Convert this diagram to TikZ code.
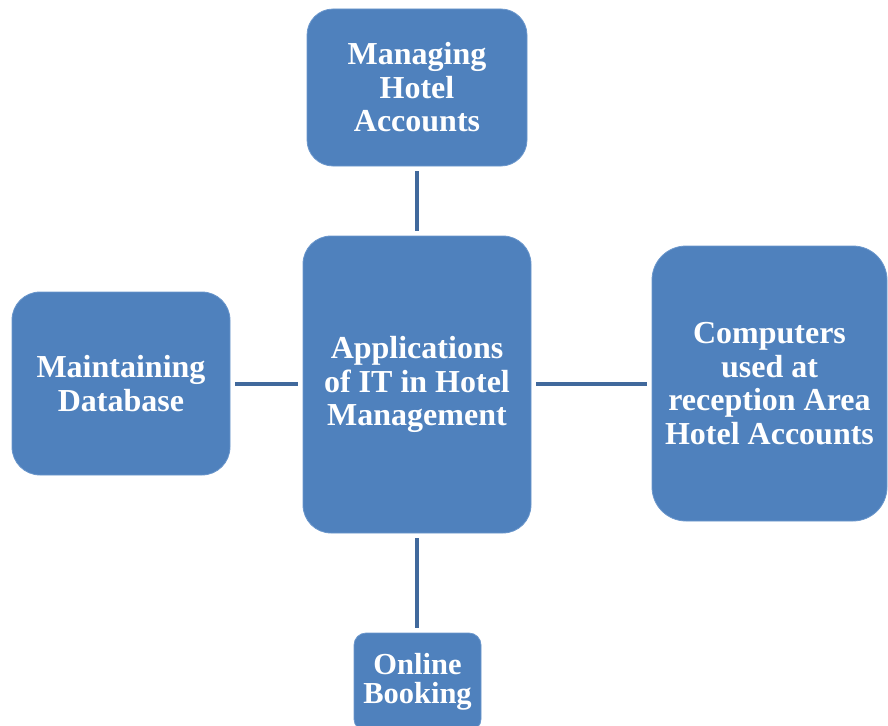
\documentclass[tikz,border=0pt]{standalone}
\usepackage{fontspec}
\setmainfont{Liberation Serif}
\definecolor{boxfill}{HTML}{4F81BD}
\definecolor{boxedge}{HTML}{6B97CC}
\definecolor{linkcol}{HTML}{41699C}
\begin{document}
\begin{tikzpicture}[x=1pt,y=-1pt,
  box/.style={draw=boxedge, line width=0.8pt, fill=boxfill, text=white,
    font=\bfseries\fontsize{32}{33.5}\selectfont, align=center,
    inner sep=0pt, outer sep=0pt},
  link/.style={draw=linkcol, line width=4pt, shorten >=5pt, shorten <=5pt}]
\useasboundingbox (0,0) rectangle (888,725);
\clip (0,0) rectangle (888,725);
\node[box, rounded corners=26pt, minimum width=220pt, minimum height=157pt]
  (top) at (417,87.5) {Managing\\Hotel\\Accounts};
\node[box, rounded corners=28pt, minimum width=228pt, minimum height=297pt]
  (center) at (417,384.5) {Applications\\of IT in Hotel\\Management};
\node[box, rounded corners=28pt, minimum width=218pt, minimum height=183pt]
  (left) at (121,383.5) {Maintaining\\Database};
\node[box, rounded corners=34pt, minimum width=235pt, minimum height=275pt]
  (right) at (769.5,383.5) {Computers\\used at\\reception Area\\Hotel Accounts};
\node[box, rounded corners=12pt, minimum width=127pt, minimum height=98pt,
  font=\bfseries\fontsize{30.5}{28.5}\selectfont]
  (bottom) at (417.5,682) {Online\\Booking};
\draw[link] (top.south) -- (center.north);
\draw[link] (left.east) -- (left.east -| center.west);
\draw[link] (right.west -| center.east) -- (right.west);
\draw[link] (center.south) -- (center.south |- bottom.north);
\end{tikzpicture}
\end{document}
